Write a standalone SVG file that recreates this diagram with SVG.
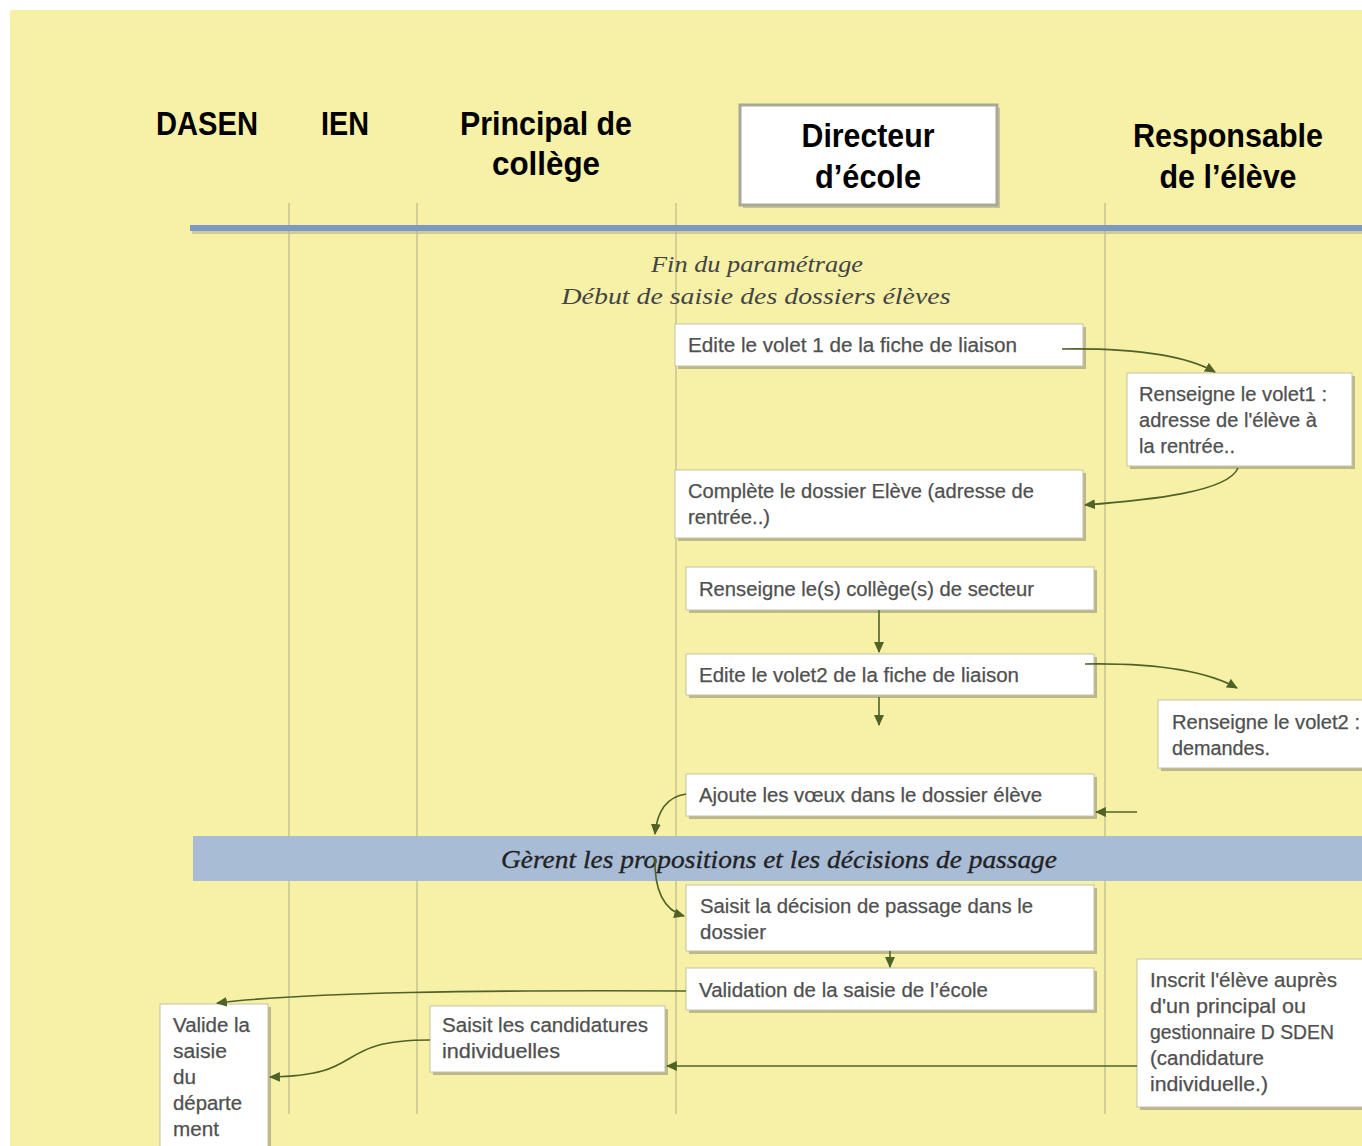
<svg xmlns="http://www.w3.org/2000/svg" width="1362" height="1146" viewBox="0 0 1362 1146">
<defs>
<style>
.hd{font-family:"Liberation Sans Narrow","Liberation Sans",Arial,sans-serif;font-weight:bold;font-size:34px;fill:#000;}
.bx{fill:#fff;stroke:#c4c2a8;stroke-width:1;}
.sh{fill:#8a8a70;opacity:0.55;}
.t{font-family:"Liberation Sans Narrow","Liberation Sans",Arial,sans-serif;font-size:20px;fill:#505050;stroke:#505050;stroke-width:0.25;}
.it{font-family:"Liberation Serif","Times New Roman",serif;font-style:italic;font-size:24px;fill:#444;}
.lane{stroke:#b0ad88;stroke-width:1;fill:none;}
.c{stroke:#4f6228;stroke-width:1.6;fill:none;marker-end:url(#ah);}
</style>
<marker id="ah" viewBox="0 0 10 10" refX="9" refY="5" markerWidth="11" markerHeight="11" markerUnits="userSpaceOnUse" orient="auto">
<path d="M0,0.5 L10,5 L0,9.5 z" fill="#4f6228"/>
</marker>
</defs>
<rect x="0" y="0" width="1362" height="1146" fill="#ffffff"/>
<rect x="10" y="10" width="1352" height="1136" fill="#f6f1a6"/>

<g id="lanes">
<line class="lane" x1="289" y1="203" x2="289" y2="1114"/>
<line class="lane" x1="417" y1="203" x2="417" y2="1114"/>
<line class="lane" x1="676" y1="203" x2="676" y2="1114"/>
<line class="lane" x1="1105" y1="203" x2="1105" y2="1114"/>
</g>

<g id="headers">
<text class="hd" x="207" y="135" text-anchor="middle" textLength="102" lengthAdjust="spacingAndGlyphs">DASEN</text>
<text class="hd" x="345" y="135" text-anchor="middle" textLength="48" lengthAdjust="spacingAndGlyphs">IEN</text>
<text class="hd" x="546" y="135" text-anchor="middle" textLength="172" lengthAdjust="spacingAndGlyphs">Principal de</text>
<text class="hd" x="546" y="175" text-anchor="middle" textLength="108" lengthAdjust="spacingAndGlyphs">collège</text>
<g id="directeur">
<rect x="743" y="108" width="257" height="100" fill="#9a9a80" opacity="0.5"/>
<rect x="740" y="105" width="257" height="100" fill="#fff" stroke="#a8a89a" stroke-width="3"/>
<text class="hd" x="868" y="147" text-anchor="middle" textLength="133" lengthAdjust="spacingAndGlyphs">Directeur</text>
<text class="hd" x="868" y="188" text-anchor="middle" textLength="106" lengthAdjust="spacingAndGlyphs">d’école</text>
</g>
<text class="hd" x="1228" y="147" text-anchor="middle" textLength="190" lengthAdjust="spacingAndGlyphs">Responsable</text>
<text class="hd" x="1228" y="188" text-anchor="middle" textLength="137" lengthAdjust="spacingAndGlyphs">de l’élève</text>
</g>

<g id="topline">
<rect x="192" y="229" width="1170" height="5" fill="#b8b488" opacity="0.6"/>
<rect x="190" y="225" width="1172" height="6" fill="#7c98c4"/>
</g>

<g id="intro">
<text class="it" x="757" y="272" text-anchor="middle" textLength="212" lengthAdjust="spacingAndGlyphs">Fin du paramétrage</text>
<text class="it" x="756" y="304" text-anchor="middle" textLength="389" lengthAdjust="spacingAndGlyphs">Début de saisie des dossiers élèves</text>
</g>

<g id="band">
<rect x="193" y="836" width="1169" height="45" fill="#a9bcd6"/>
<text x="779" y="868" text-anchor="middle" textLength="556" lengthAdjust="spacingAndGlyphs" font-family="Liberation Serif, Times New Roman, serif" font-style="italic" font-size="25" fill="#222" stroke="#222" stroke-width="0.3">Gèrent les propositions et les décisions de passage</text>
</g>

<g id="n1">
<rect class="sh" x="678" y="327" width="408" height="42"/>
<rect class="bx" x="675" y="324" width="408" height="42"/>
<text class="t" x="688" y="352" textLength="329" lengthAdjust="spacingAndGlyphs">Edite le volet  1 de la fiche de liaison</text>
</g>
<g id="n2">
<rect class="sh" x="1130" y="376" width="225" height="93"/>
<rect class="bx" x="1127" y="373" width="225" height="93"/>
<text class="t" x="1139" y="401" textLength="188" lengthAdjust="spacingAndGlyphs">Renseigne le volet1 :</text>
<text class="t" x="1139" y="427" textLength="178" lengthAdjust="spacingAndGlyphs">adresse de l'élève à</text>
<text class="t" x="1139" y="453" textLength="96" lengthAdjust="spacingAndGlyphs">la rentrée..</text>
</g>
<g id="n3">
<rect class="sh" x="678" y="473" width="408" height="68"/>
<rect class="bx" x="675" y="470" width="408" height="68"/>
<text class="t" x="688" y="498" textLength="346" lengthAdjust="spacingAndGlyphs">Complète le dossier Elève (adresse de</text>
<text class="t" x="688" y="524" textLength="82" lengthAdjust="spacingAndGlyphs">rentrée..)</text>
</g>
<g id="n4">
<rect class="sh" x="689" y="570" width="408" height="43"/>
<rect class="bx" x="686" y="567" width="408" height="43"/>
<text class="t" x="699" y="596" textLength="335" lengthAdjust="spacingAndGlyphs">Renseigne le(s) collège(s) de secteur</text>
</g>
<g id="n5">
<rect class="sh" x="689" y="657" width="408" height="41"/>
<rect class="bx" x="686" y="654" width="408" height="41"/>
<text class="t" x="699" y="682" textLength="320" lengthAdjust="spacingAndGlyphs">Edite le volet2 de la fiche de liaison</text>
</g>
<g id="n6">
<rect class="sh" x="1161" y="703" width="210" height="68"/>
<rect class="bx" x="1158" y="700" width="210" height="68"/>
<text class="t" x="1172" y="729" textLength="188" lengthAdjust="spacingAndGlyphs">Renseigne le volet2 :</text>
<text class="t" x="1172" y="755" textLength="98" lengthAdjust="spacingAndGlyphs">demandes.</text>
</g>
<g id="n7">
<rect class="sh" x="689" y="777" width="408" height="42"/>
<rect class="bx" x="686" y="774" width="408" height="42"/>
<text class="t" x="699" y="802" textLength="343" lengthAdjust="spacingAndGlyphs">Ajoute les vœux dans le dossier élève</text>
</g>
<g id="n9">
<rect class="sh" x="689" y="888" width="408" height="66"/>
<rect class="bx" x="686" y="885" width="408" height="66"/>
<text class="t" x="700" y="913" textLength="333" lengthAdjust="spacingAndGlyphs">Saisit la décision de passage dans le</text>
<text class="t" x="700" y="939" textLength="66" lengthAdjust="spacingAndGlyphs">dossier</text>
</g>
<g id="n10">
<rect class="sh" x="689" y="971" width="408" height="42"/>
<rect class="bx" x="686" y="968" width="408" height="42"/>
<text class="t" x="699" y="997" textLength="289" lengthAdjust="spacingAndGlyphs">Validation de la saisie de l’école</text>
</g>
<g id="n11">
<rect class="sh" x="1140" y="962" width="225" height="148"/>
<rect class="bx" x="1137" y="959" width="230" height="148"/>
<text class="t" x="1150" y="987" textLength="187" lengthAdjust="spacingAndGlyphs">Inscrit l'élève auprès</text>
<text class="t" x="1150" y="1013" textLength="156" lengthAdjust="spacingAndGlyphs">d'un principal  ou</text>
<text class="t" x="1150" y="1039" textLength="184" lengthAdjust="spacingAndGlyphs">gestionnaire D SDEN</text>
<text class="t" x="1150" y="1065" textLength="114" lengthAdjust="spacingAndGlyphs">(candidature</text>
<text class="t" x="1150" y="1091" textLength="118" lengthAdjust="spacingAndGlyphs">individuelle.)</text>
</g>
<g id="n12">
<rect class="sh" x="433" y="1009" width="235" height="66"/>
<rect class="bx" x="430" y="1006" width="235" height="66"/>
<text class="t" x="442" y="1032" textLength="206" lengthAdjust="spacingAndGlyphs">Saisit les candidatures</text>
<text class="t" x="442" y="1058" textLength="118" lengthAdjust="spacingAndGlyphs">individuelles</text>
</g>
<g id="n13">
<rect class="sh" x="163" y="1007" width="108" height="145"/>
<rect class="bx" x="160" y="1004" width="108" height="150"/>
<text class="t" x="173" y="1032" textLength="77" lengthAdjust="spacingAndGlyphs">Valide la</text>
<text class="t" x="173" y="1058" textLength="54" lengthAdjust="spacingAndGlyphs">saisie</text>
<text class="t" x="173" y="1084" textLength="23" lengthAdjust="spacingAndGlyphs">du</text>
<text class="t" x="173" y="1110" textLength="69" lengthAdjust="spacingAndGlyphs">départe</text>
<text class="t" x="173" y="1136" textLength="46" lengthAdjust="spacingAndGlyphs">ment</text>
</g>

<g id="connectors">
<path class="c" d="M1062,349 C1130,348 1185,355 1215,372"/>
<path class="c" d="M1238,468 C1228,492 1150,500 1085,505"/>
<path class="c" d="M879,610 L879,652"/>
<path class="c" d="M1085,664 C1150,663 1205,670 1237,688"/>
<path class="c" d="M879,697 L879,725"/>
<path class="c" d="M1137,812 L1096,812"/>
<path class="c" d="M686,794 C666,797 657,812 655,834"/>
<path class="c" d="M655,857 C654,890 664,910 684,916"/>
<path class="c" d="M890,951 L890,967"/>
<path class="c" d="M686,991 C480,990 310,992 217,1003"/>
<path class="c" d="M430,1040 C330,1040 370,1076 270,1077"/>
<path class="c" d="M1137,1066 L667,1066"/>
</g>
</svg>
